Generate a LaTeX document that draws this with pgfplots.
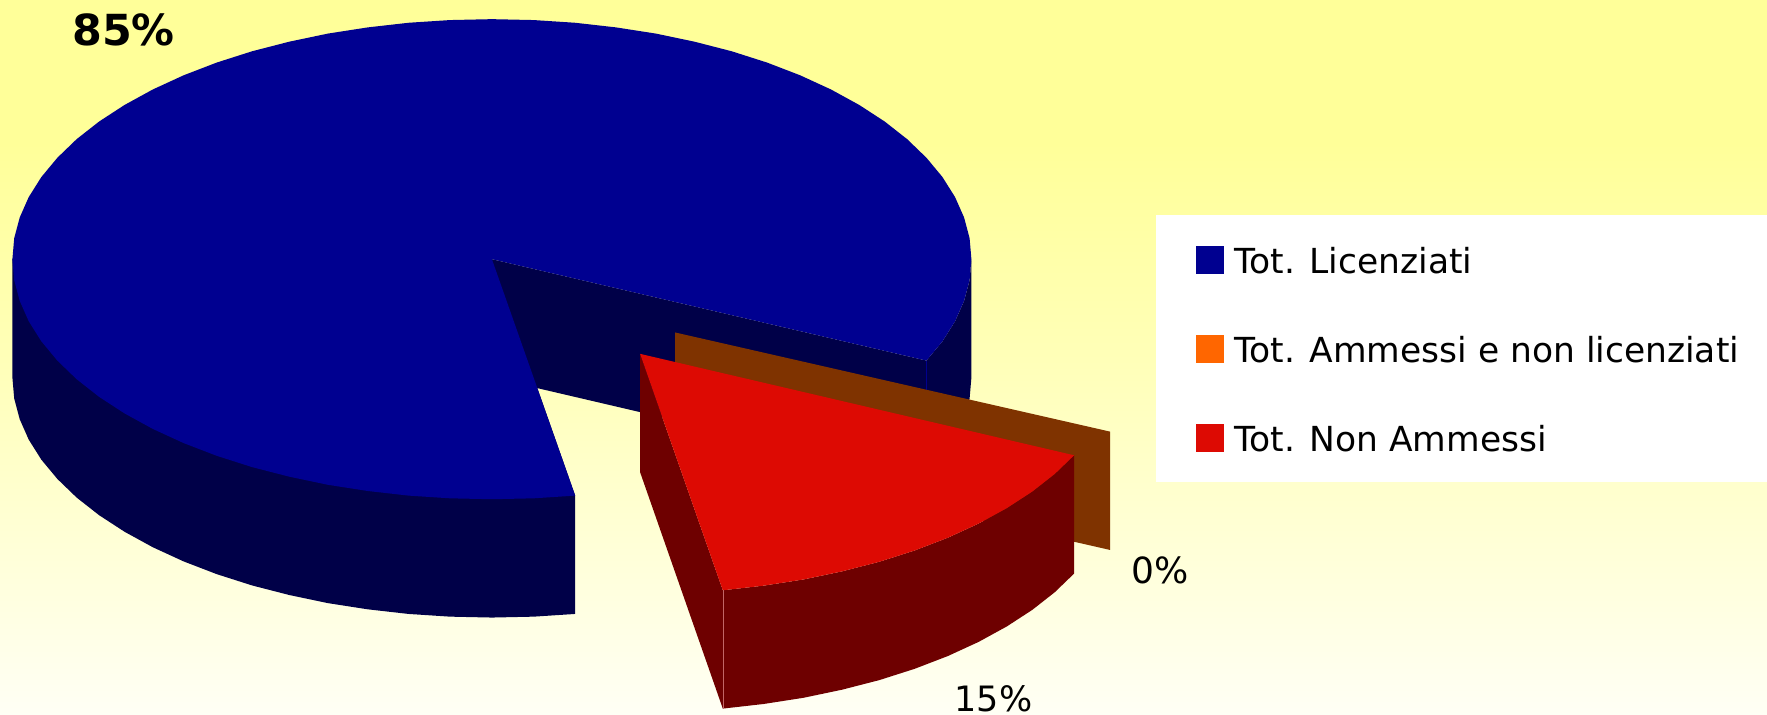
\documentclass[border=0pt]{standalone}
\usepackage{fontspec}
\setmainfont{DejaVu Sans}
\usepackage{pgfplots}
\pgfplotsset{compat=1.18}

\definecolor{pieblue}{HTML}{000090}
\definecolor{pieblueside}{HTML}{000048}
\definecolor{piered}{HTML}{DD0A03}
\definecolor{pieredside}{HTML}{6E0000}
\definecolor{piebrown}{HTML}{7F3300}
\definecolor{pieorange}{HTML}{FF6600}

% background: strong yellow at the top, nearly white at the bottom
\pgfdeclareverticalshading{slidebg}{100bp}{
  color(0bp)=(white!96!yellow);
  color(25bp)=(white!96!yellow);
  color(35bp)=(white!86!yellow);
  color(50bp)=(white!72!yellow);
  color(65bp)=(white!60!yellow);
  color(75bp)=(white!60!yellow);
  color(100bp)=(white!60!yellow)}

\begin{document}
\begin{tikzpicture}
\begin{axis}[
    scale only axis,
    width=1568pt, height=634pt,
    xmin=0, xmax=1568,
    ymin=0, ymax=634,
    y dir=reverse,
    hide axis,
    every axis plot/.append style={draw=none},
]
\addplot[shading=slidebg] coordinates {(0,0)(1568,0)(1568,634)(0,634)} --cycle;

% Tot. Licenziati, 85%: walls
\addplot[fill=pieblueside] coordinates {
    (436.5,230)(822.1,320)(822.1,425)(436.5,335)} --cycle;
\addplot[fill=pieblueside] coordinates {
    (822.1,320)(836.3,302.9)(847.5,285.1)(855.5,267)(860.4,248.6)(862,230)
    (862,335)(860.4,353.6)(855.5,372)(847.5,390.1)(836.3,407.9)(822.1,425)} --cycle;
\addplot[fill=pieblueside] coordinates {
    (436.5,230)(11,230)
    (11,335)(12.6,353.6)(17.5,372)(25.5,390.1)(36.7,407.9)(50.9,425)(68,441.5)
    (88,457.2)(110.6,471.9)(135.6,485.6)(163,498.2)(192.4,509.5)(223.7,519.5)
    (256.7,528)(291,535.2)(326.4,540.7)(362.6,544.8)(399.4,547.2)(436.5,548)
    (473.6,547.2)(510.4,544.8)(510.4,439.8)} --cycle;
\addplot[draw=pieblue, line width=0.5pt] coordinates {(822.1,320)(822.1,425)};
% top face
\addplot[fill=pieblue] coordinates {
    (436.5,230)(822.1,320)(836.3,302.9)(847.5,285.1)(855.5,267)(860.4,248.6)(862,230)
    (860.4,211.4)(855.5,193)(847.5,174.9)(836.3,157.1)(822.1,140)(805,123.5)(785,107.8)
    (762.4,93.1)(737.4,79.4)(710,66.8)(680.6,55.5)(649.3,45.5)(616.3,37)(582,29.8)
    (546.6,24.3)(510.4,20.2)(473.6,17.8)(436.5,17)(399.4,17.8)(362.6,20.2)(326.4,24.3)
    (291,29.8)(256.7,37)(223.7,45.5)(192.4,55.5)(163,66.8)(135.6,79.4)(110.6,93.1)
    (88,107.8)(68,123.5)(50.9,140)(36.7,157.1)(25.5,174.9)(17.5,193)(12.6,211.4)(11,230)
    (12.6,248.6)(17.5,267)(25.5,285.1)(36.7,302.9)(50.9,320)(68,336.5)(88,352.2)
    (110.6,366.9)(135.6,380.6)(163,393.2)(192.4,404.5)(223.7,414.5)(256.7,423)
    (291,430.2)(326.4,435.7)(362.6,439.8)(399.4,442.2)(436.5,443)(473.6,442.2)(510.4,439.8)} --cycle;

% Tot. Ammessi e non licenziati, 0%: a slice with no width, only its wall shows
\addplot[fill=piebrown] coordinates {(599,295)(985,383)(985,488)(599,400)} --cycle;

% Tot. Non Ammessi, 15%: pulled out of the pie
\addplot[fill=pieredside] coordinates {(568,314)(641.4,523.8)(641.4,628.8)(568,419)} --cycle;
\addplot[fill=pieredside] coordinates {
    (953.1,404)(936,420.5)(916,436.2)(893.4,450.9)(868.4,464.6)(841,477.2)(811.6,488.5)
    (780.3,498.5)(747.3,507)(713,514.2)(677.6,519.7)(641.4,523.8)
    (641.4,628.8)(677.6,624.7)(713,619.2)(747.3,612)(780.3,603.5)(811.6,593.5)(841,582.2)
    (868.4,569.6)(893.4,555.9)(916,541.2)(936,525.5)(953.1,509)} --cycle;
\addplot[fill=piered] coordinates {
    (568,314)(953.1,404)(936,420.5)(916,436.2)(893.4,450.9)(868.4,464.6)(841,477.2)
    (811.6,488.5)(780.3,498.5)(747.3,507)(713,514.2)(677.6,519.7)(641.4,523.8)} --cycle;
\addplot[draw=red!30!pieredside!60!white, line width=0.5pt] coordinates {(641.4,523.8)(641.4,628.8)};

% legend box
\addplot[fill=white] coordinates {(1026,191)(1568,191)(1568,428)(1026,428)} --cycle;
\addplot[fill=pieblue] coordinates {(1061,218)(1086,218)(1086,243)(1061,243)} --cycle;
\addplot[fill=pieorange] coordinates {(1061,297)(1086,297)(1086,322)(1061,322)} --cycle;
\addplot[fill=piered] coordinates {(1061,376)(1086,376)(1086,401)(1061,401)} --cycle;

\begin{scope}[every node/.style={anchor=base west, inner sep=0pt, font=\fontsize{30.6}{33}\selectfont}]
\node at (axis cs:1095,243) {Tot. Licenziati};
\node at (axis cs:1095,322) {Tot. Ammessi e non licenziati};
\node at (axis cs:1095,401) {Tot. Non Ammessi};
\node[font=\fontsize{32}{34}\selectfont] at (axis cs:1004,518) {0\%};
\node[font=\fontsize{31}{34}\selectfont] at (axis cs:847,631) {15\%};
\node[font=\fontsize{38}{40}\selectfont\bfseries] at (axis cs:64,40.5) {85\%};
\end{scope}
\end{axis}
\end{tikzpicture}
\end{document}
